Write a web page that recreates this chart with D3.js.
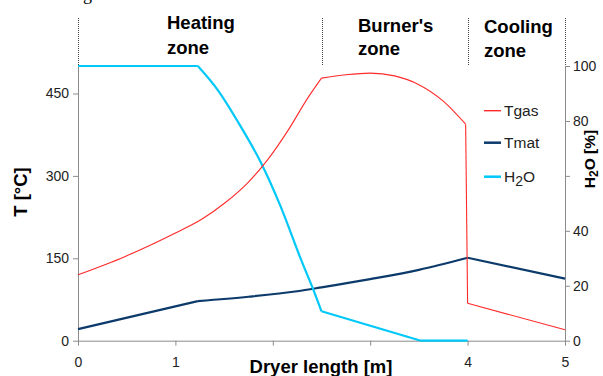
<!DOCTYPE html>
<html>
<head>
<meta charset="utf-8">
<script src="https://cdn.jsdelivr.net/npm/d3@7"></script>
<style>
  html, body { margin: 0; padding: 0; background: #fff; }
  svg { display: block; font-family: "Liberation Sans", Arial, sans-serif; }
</style>
</head>
<body>
<svg id="chart" width="603" height="376"></svg>
<script>
// ---------- data ----------
const xTicks = [0, 1, 2, 3, 4, 5];
const xTickLabels = ["0", "1", "", "", "4", "5"];
const leftTicks = [0, 150, 300, 450];
const rightTicks = [0, 20, 40, 60, 80, 100];
const rightTickLabels = ["0", "20", "40", "", "80", "100"];

const zoneBounds = [0, 2.5, 4, 5];
const zoneLine1 = ["Heating", "Burner's", "Cooling"];
const zoneLine2 = ["zone", "zone", "zone"];

const tgasX = [0, 0.48, 1.0, 1.27, 1.51, 1.74, 1.95, 2.15, 2.36, 2.5, 2.75, 3.0, 3.25, 3.5, 3.75, 3.98, 4.0, 5.0];
const tgasY = [120, 153, 196, 221, 251, 287, 330, 381, 442, 478, 484, 487, 482, 466, 436, 394, 68, 20];
const tgasKnots = [0, 2.5, 3.98, 4.0, 5.0];

const tmatX = [0, 1.23, 1.75, 2.25, 2.5, 3.0, 3.5, 4.0, 5.0];
const tmatY = [21, 72, 80, 90, 97, 112, 129, 151, 113];
const tmatKnots = [0, 1.23, 4.0, 5.0];

const h2oX = [0, 1.23, 1.43, 1.67, 1.88, 2.08, 2.29, 2.43, 2.5, 3.52, 4.0];
const h2oY = [100, 100, 91.5, 78, 64.7, 48.9, 29.5, 17.3, 10.7, 0, 0];
const h2oKnots = [0, 1.23, 2.5, 3.52, 4.0];

const seriesNames = ["Tgas", "Tmat", "H2O"];
const seriesColors = ["#ff2a2a", "#0b3a6b", "#00c8f8"];
const seriesWidths = [1.1, 2.2, 2.2];

// ---------- layout ----------
const svg = d3.select("#chart");
const L = 78, R = 565, T = 66, B = 340.7;
const x = d3.scaleLinear().domain([0, 5]).range([L, R]);
const yL = d3.scaleLinear().domain([0, 500]).range([B, T]);
const yR = d3.scaleLinear().domain([0, 100]).range([B, T]);
const axisColor = "#8c8c8c";
const textColor = "#222";

// fragment of a text line above the chart (cut off in the original)
svg.append("text").attr("x", 83).attr("y", 0)
  .attr("font-family", "'Liberation Serif', serif").attr("font-size", 18).attr("fill", "#000").text("g");

// zone dividers
svg.append("g").selectAll("line").data(zoneBounds).join("line")
  .attr("x1", d => Math.round(x(d)) + 0.5).attr("x2", d => Math.round(x(d)) + 0.5)
  .attr("y1", 18).attr("y2", 65)
  .attr("stroke", "#444").attr("stroke-width", 1).attr("stroke-dasharray", "1,1");

// zone labels
const zoneLabelX = [167, 358, 484];
const zoneBase1 = [29, 32, 33];
const zoneBase2 = [54, 55, 57];
const zg = svg.append("g").attr("font-weight", "bold").attr("font-size", 18.5).attr("fill", "#000");
zoneLine1.forEach((t, i) => {
  zg.append("text").attr("x", zoneLabelX[i]).attr("y", zoneBase1[i]).text(t);
  zg.append("text").attr("x", zoneLabelX[i]).attr("y", zoneBase2[i]).text(zoneLine2[i]);
});

// axes
function styleAxis(g) {
  g.selectAll(".domain").attr("stroke", axisColor);
  g.selectAll(".tick line").attr("stroke", axisColor);
  g.selectAll(".tick text").attr("fill", textColor).attr("font-size", 14)
    .attr("font-family", "'Liberation Sans', Arial, sans-serif");
}
svg.append("g").attr("transform", `translate(0,${B})`)
  .call(d3.axisBottom(x).tickValues(xTicks).tickFormat((d, i) => xTickLabels[i]).tickSize(5).tickPadding(11).tickSizeOuter(0))
  .call(styleAxis);
svg.append("g").attr("transform", `translate(${L},0)`)
  .call(d3.axisLeft(yL).tickValues(leftTicks).tickSize(5).tickPadding(4).tickSizeOuter(0))
  .call(styleAxis);
svg.append("g").attr("transform", `translate(${R},0)`)
  .call(d3.axisRight(yR).tickValues(rightTicks).tickFormat((d, i) => rightTickLabels[i]).tickSize(5).tickPadding(3).tickSizeOuter(0))
  .call(styleAxis);

// axis titles
svg.append("text").attr("x", (L + R) / 2 - 0.5).attr("y", 373).attr("text-anchor", "middle")
  .attr("font-weight", "bold").attr("font-size", 18.5).attr("fill", "#000").text("Dryer length [m]");
svg.append("text").attr("transform", "translate(27,192) rotate(-90)").attr("text-anchor", "middle")
  .attr("font-weight", "bold").attr("font-size", 18.5).attr("fill", "#000").text("T [°C]");
const rt = svg.append("text").attr("transform", "translate(595,159) rotate(-90)").attr("text-anchor", "middle")
  .attr("font-weight", "bold").attr("font-size", 15.5).attr("fill", "#000");
rt.append("tspan").text("H");
rt.append("tspan").attr("font-size", 12).attr("dy", 3).text("2");
rt.append("tspan").attr("dy", -3).text("O [%]");

// series
function drawSeries(xs, ys, knots, yScale, color, width) {
  const pts = xs.map((d, i) => [d, ys[i]]);
  for (let k = 0; k < knots.length - 1; k++) {
    const seg = pts.filter(p => p[0] >= knots[k] - 1e-9 && p[0] <= knots[k + 1] + 1e-9);
    const line = d3.line().x(p => x(p[0])).y(p => yScale(p[1]))
      .curve(seg.length > 2 ? d3.curveMonotoneX : d3.curveLinear);
    svg.append("path").attr("d", line(seg)).attr("fill", "none")
      .attr("stroke", color).attr("stroke-width", width).attr("stroke-linejoin", "round");
  }
}
drawSeries(tmatX, tmatY, tmatKnots, yL, seriesColors[1], seriesWidths[1]);
drawSeries(h2oX, h2oY, h2oKnots, yR, seriesColors[2], seriesWidths[2]);
drawSeries(tgasX, tgasY, tgasKnots, yL, seriesColors[0], seriesWidths[0]);

// legend
const legY = [110.7, 142.7, 176.7];
const lg = svg.append("g");
seriesNames.forEach((n, i) => {
  lg.append("line").attr("x1", 484).attr("x2", 501).attr("y1", legY[i]).attr("y2", legY[i])
    .attr("stroke", seriesColors[i]).attr("stroke-width", seriesWidths[i] + 0.3);
  const t = lg.append("text").attr("x", 504).attr("y", legY[i] + 5.5).attr("font-size", 15.5).attr("fill", textColor);
  if (n === "H2O") {
    t.append("tspan").text("H");
    t.append("tspan").attr("dy", 4).attr("font-size", 14).text("2");
    t.append("tspan").attr("dy", -4).text("O");
  } else {
    t.text(n);
  }
});
</script>
</body>
</html>
